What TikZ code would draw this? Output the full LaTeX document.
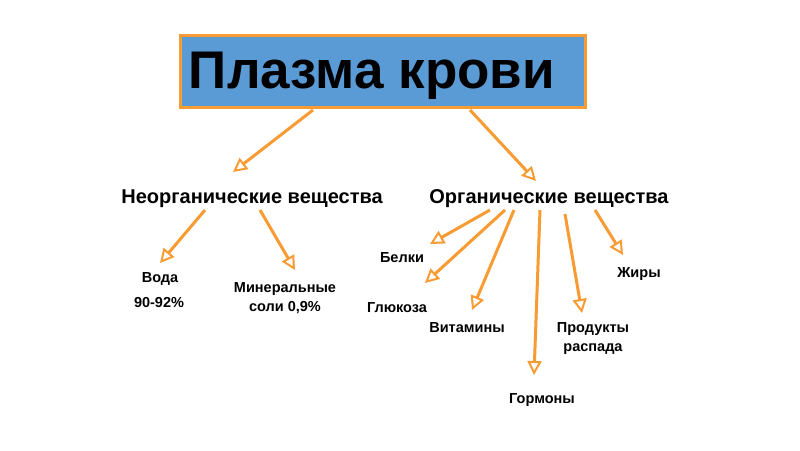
\documentclass[tikz,border=0pt]{standalone}
\usepackage{fontspec}
\setmainfont{Liberation Sans}
\usetikzlibrary{arrows.meta}
\definecolor{boxblue}{RGB}{91,155,213}
\definecolor{arrorange}{RGB}{247,155,50}
\begin{document}
\begin{tikzpicture}[x=1pt,y=-1pt,
  conn/.style={draw=arrorange,line width=3pt,-{Triangle[length=14pt,width=14pt,fill=white,line width=2pt]}},
  heading/.style={font=\fontsize{20}{24}\selectfont\bfseries,inner sep=0pt,anchor=base},
  leaf/.style={font=\fontsize{14.5}{18}\selectfont\bfseries,inner sep=0pt,anchor=base}]
\useasboundingbox[fill=white] (0,0) rectangle (800,450);
\node[draw=arrorange,fill=boxblue,line width=3pt,minimum width=405pt,minimum height=72pt,inner sep=0pt] (box) at (382.5,71) {};
\node[font=\fontsize{53}{60}\selectfont\bfseries,inner sep=0pt,anchor=base] (title) at (372,88) {Плазма крови};
\node[heading] (inorg) at (252,203) {Неорганические вещества};
\node[heading] (org) at (549,203) {Органические вещества};
\node[leaf] (voda) at (160,282) {Вода};
\node[leaf] (vodap) at (159,307) {90-92\%};
\node[leaf] (min) at (285,292) {Минеральные};
\node[leaf] (min2) at (285,311) {соли 0,9\%};
\node[leaf] (belki) at (402,262) {Белки};
\node[leaf] (glu) at (397,312) {Глюкоза};
\node[leaf] (vit) at (467,332) {Витамины};
\node[leaf] (gorm) at (542,403) {Гормоны};
\node[leaf] (prod) at (593,332) {Продукты};
\node[leaf] (prod2) at (593,351) {распада};
\node[leaf] (zhir) at (639,277) {Жиры};
% connector end points
\coordinate (b1) at (313,110); \coordinate (e1) at (233,172);
\coordinate (b2) at (470,110); \coordinate (e2) at (536,181);
\coordinate (b3) at (205,210); \coordinate (e3) at (160,263);
\coordinate (b4) at (260,210); \coordinate (e4) at (295,270);
\coordinate (b5) at (490,210); \coordinate (e5) at (430,244);
\coordinate (b6) at (505,210); \coordinate (e6) at (425,283);
\coordinate (b7) at (514,210); \coordinate (e7) at (472,310);
\coordinate (b8) at (540,210); \coordinate (e8) at (534,375);
\coordinate (b9) at (565,214); \coordinate (e9) at (582,313);
\coordinate (b10) at (595,210); \coordinate (e10) at (623,255);
\draw[conn] (b1) -- (e1);
\draw[conn] (b2) -- (e2);
\draw[conn] (b3) -- (e3);
\draw[conn] (b4) -- (e4);
\draw[conn] (b5) -- (e5);
\draw[conn] (b6) -- (e6);
\draw[conn] (b7) -- (e7);
\draw[conn] (b8) -- (e8);
\draw[conn] (b9) -- (e9);
\draw[conn] (b10) -- (e10);
\end{tikzpicture}
\end{document}
